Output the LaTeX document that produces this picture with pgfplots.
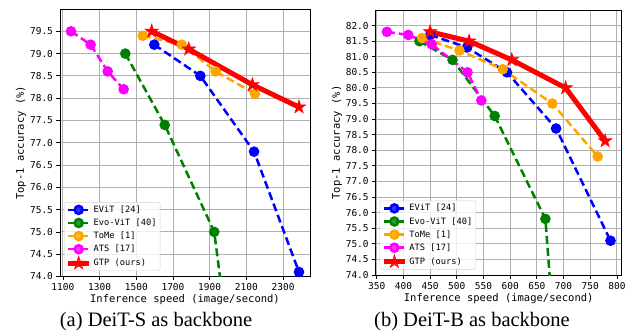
\documentclass[border=0pt]{standalone}
\usepackage{fontspec}
\setmainfont{Liberation Serif}
\newfontfamily\monofont{DejaVu Sans Mono}
\usepackage{pgfplots}
\pgfplotsset{compat=1.18}
\definecolor{mplorange}{RGB}{255,165,0}
\definecolor{mplgreen}{RGB}{0,128,0}
\definecolor{mplblue}{RGB}{0,0,255}
\definecolor{mplmag}{RGB}{255,0,255}
\definecolor{mplred}{RGB}{255,0,0}
\definecolor{gridgray}{RGB}{176,176,176}
\pgfdeclareplotmark{fstar}{%
  \pgfpathmoveto{\pgfqpointpolar{90}{\pgfplotmarksize}}%
  \pgfpathlineto{\pgfqpointpolar{126}{0.382\pgfplotmarksize}}%
  \pgfpathlineto{\pgfqpointpolar{162}{\pgfplotmarksize}}%
  \pgfpathlineto{\pgfqpointpolar{198}{0.382\pgfplotmarksize}}%
  \pgfpathlineto{\pgfqpointpolar{234}{\pgfplotmarksize}}%
  \pgfpathlineto{\pgfqpointpolar{270}{0.382\pgfplotmarksize}}%
  \pgfpathlineto{\pgfqpointpolar{306}{\pgfplotmarksize}}%
  \pgfpathlineto{\pgfqpointpolar{342}{0.382\pgfplotmarksize}}%
  \pgfpathlineto{\pgfqpointpolar{18}{\pgfplotmarksize}}%
  \pgfpathlineto{\pgfqpointpolar{54}{0.382\pgfplotmarksize}}%
  \pgfpathclose
  \pgfusepathqfillstroke}
\pgfplotsset{
  mystyle/.style={
    scale only axis,
    grid=major,
    major grid style={gridgray, line width=0.9pt},
    axis line style={black, line width=0.8pt},
    tick align=outside, tick pos=left, major tick length=3.5pt,
    tick style={black, line width=0.8pt},
    /pgf/number format/assume math mode=true,
    ticklabel style={font=\monofont\fontsize{9.5}{10}\selectfont},
    label style={font=\monofont\fontsize{10.5}{12}\selectfont},
    xticklabel style={/pgf/number format/1000 sep={}},
    yticklabel style={/pgf/number format/fixed, /pgf/number format/precision=1, /pgf/number format/fixed zerofill},
    legend style={at={(0,0)}, anchor=south west, xshift=4pt, yshift=5.5pt,
      font=\monofont\fontsize{8.7}{10}\selectfont, draw=gray!35, rounded corners=2pt,
      fill=white, fill opacity=0.8, text opacity=1, inner sep=1.5pt, row sep=1pt,
      cells={anchor=west}},
    legend image code/.code={\draw[mark repeat=2,mark phase=2] plot coordinates {(0pt,0pt) (10.5pt,0pt) (21pt,0pt)};},
    dstyle/.style={line width=2.5pt, dash pattern=on 8pt off 4pt, mark=*, mark size=4pt, mark options={solid}},
    sstyle/.style={mplred, line width=5pt, mark=fstar, mark size=7pt, mark options={solid, fill=mplred, line width=0.6pt, line join=miter}},
  }
}
\begin{document}
\begin{tikzpicture}
\useasboundingbox (0,0) rectangle (632pt,335pt);
\begin{axis}[mystyle, at={(60pt,58.5pt)}, anchor=south west, width=250pt, height=267.5pt,
  xmin=1084, xmax=2447, ymin=74, ymax=80,
  xtick={1100,1300,1500,1700,1900,2100,2300},
  ytick={74,74.5,75,75.5,76,76.5,77,77.5,78,78.5,79,79.5},
  xlabel={Inference speed (image/second)}, ylabel={Top-1 accuracy (\%)},
  xlabel style={at={(axis description cs:0.5,-0.0852)}, anchor=center},
  ylabel style={at={(axis description cs:-0.156,0.5)}, anchor=center}]
\addplot[mplblue, dstyle] coordinates {(1598,79.2) (1849,78.5) (2142,76.8) (2387,74.1)};
\addlegendentry{EViT [24]}
\addplot[mplgreen, dstyle] coordinates {(1440,79.0) (1655,77.4) (1925,75.0) (1990,72.9)};
\addlegendentry{Evo-ViT [40]}
\addplot[mplorange, dstyle] coordinates {(1535,79.4) (1748,79.2) (1933,78.6) (2147,78.1)};
\addlegendentry{ToMe [1]}
\addplot[mplmag, dstyle] coordinates {(1144,79.5) (1251,79.2) (1344,78.6) (1431,78.2)};
\addlegendentry{ATS [17]}
\addplot[sstyle] coordinates {(1584,79.5) (1786,79.1) (2133,78.3) (2387,77.8)};
\addlegendentry{GTP (ours)}
\end{axis}
\begin{axis}[mystyle, at={(375.7pt,60pt)}, anchor=south west, width=246pt, height=265pt,
  xmin=348, xmax=809, ymin=74, ymax=82.5,
  xtick={350,400,450,500,550,600,650,700,750,800},
  ytick={74,74.5,75,75.5,76,76.5,77,77.5,78,78.5,79,79.5,80,80.5,81,81.5,82},
  xlabel={Inference speed (image/second)}, ylabel={Top-1 accuracy (\%)},
  xlabel style={at={(axis description cs:0.5,-0.0900)}, anchor=center},
  ylabel style={at={(axis description cs:-0.157,0.5)}, anchor=center}]
\addplot[mplblue, dstyle] coordinates {(450,81.7) (519,81.3) (594,80.5) (686,78.7) (788,75.1)};
\addlegendentry{EViT [24]}
\addplot[mplgreen, dstyle] coordinates {(430,81.5) (492,80.9) (571,79.1) (666,75.8) (680,72.6)};
\addlegendentry{Evo-ViT [40]}
\addplot[mplorange, dstyle] coordinates {(435,81.6) (505,81.2) (586,80.6) (679,79.5) (764,77.8)};
\addlegendentry{ToMe [1]}
\addplot[mplmag, dstyle] coordinates {(369,81.8) (409,81.7) (453,81.4) (520,80.5) (546,79.6)};
\addlegendentry{ATS [17]}
\addplot[sstyle] coordinates {(450,81.8) (523,81.5) (603,80.9) (704,80.0) (778,78.3)};
\addlegendentry{GTP (ours)}
\end{axis}
\node[anchor=base, font=\fontsize{20.5}{24}\selectfont] at (156pt,8.3pt) {(a) DeiT-S as backbone};
\node[anchor=base, font=\fontsize{20.5}{24}\selectfont] at (472pt,8.3pt) {(b) DeiT-B as backbone};
\end{tikzpicture}
\end{document}
